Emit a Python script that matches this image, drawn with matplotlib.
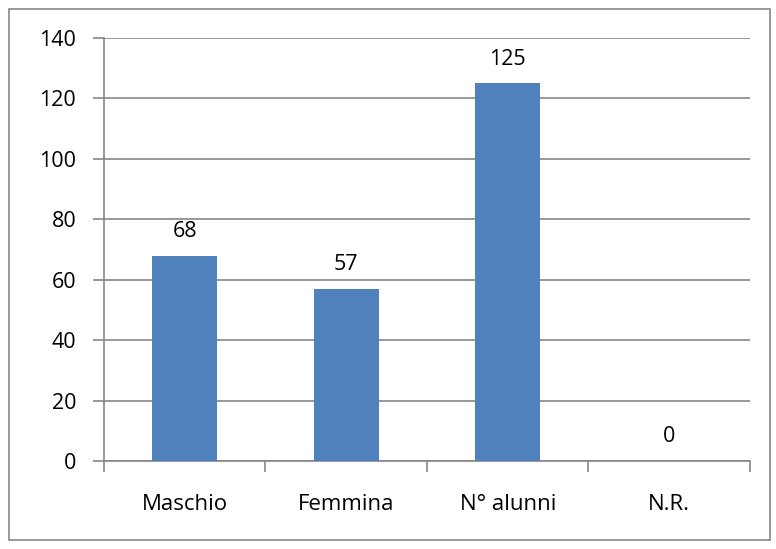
import matplotlib.pyplot as plt
from matplotlib.patches import Rectangle

categories = ['Maschio', 'Femmina', 'N° alunni', 'N.R.']
values = [68, 57, 125, 0]
yticks = [0, 20, 40, 60, 80, 100, 120, 140]

bar_color = '#4F81BD'
grid_color = '#868686'

plt.rcParams['font.family'] = ['Open Sans', 'DejaVu Sans']

fig = plt.figure(figsize=(7.76, 5.49), dpi=100)
ax = fig.add_axes([0.134, 0.1603, 0.8325, 0.7705])

# outer chart frame
fig.patches.append(Rectangle((0.0116, 0.0164), 0.9804, 0.967, transform=fig.transFigure,
                             fill=False, edgecolor=grid_color, linewidth=1.2))

x = range(len(categories))
ax.bar(x, values, width=0.40, color=bar_color, zorder=3)
for i, v in enumerate(values):
    ax.annotate(str(v), (i, v), xytext=(0, 13.5), textcoords='offset points',
                ha='center', va='baseline', fontsize=15.5, color='black')

ax.set_xlim(-0.5, len(categories) - 0.5)
ax.set_ylim(0, 140)
ax.set_yticks(yticks)
ax.yaxis.grid(True, color=grid_color, linewidth=1.2, zorder=0)
ax.tick_params(axis='y', length=8, width=1.2, color=grid_color, labelsize=15.5, pad=12)

ax.set_xticks(x)
ax.set_xticklabels(categories, fontsize=16)
ax.tick_params(axis='x', length=0, pad=24)
ax.set_xticks([i - 0.5 for i in range(len(categories) + 1)], minor=True)
ax.tick_params(axis='x', which='minor', length=8, width=1.2, color=grid_color, direction='out')

for s in ['top', 'right']:
    ax.spines[s].set_visible(False)
for s in ['left', 'bottom']:
    ax.spines[s].set_color(grid_color)
    ax.spines[s].set_linewidth(1.2)

fig.savefig('out.png', dpi=100)
